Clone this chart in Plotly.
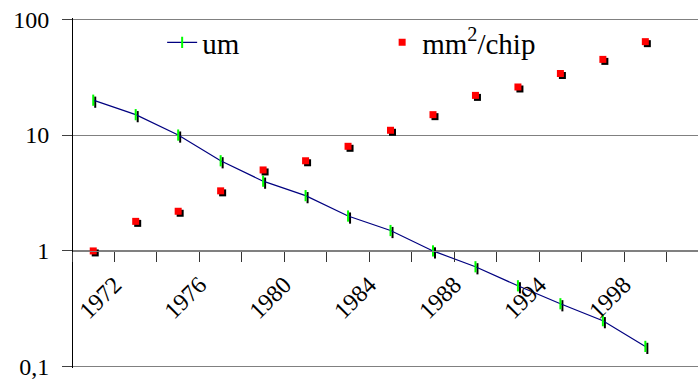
import plotly.graph_objects as go

# ---- data ----
categories = ["1972", "1974", "1976", "1978", "1980", "1982", "1984",
              "1986", "1988", "1991", "1994", "1996", "1998", "2000"]
um_values = [20, 15, 10, 6, 4, 3, 2, 1.5, 1, 0.73, 0.5, 0.35, 0.25, 0.15]
mm2_chip_values = [1, 1.8, 2.2, 3.3, 5, 6, 8, 11, 15, 22, 26, 34, 45, 64]
y_tickvals = [0.1, 1, 10, 100]
y_ticktext = ["0,1", "1", "10", "100"]
series_names = ["um", "mm<sup>2</sup>/chip"]

# ---- geometry / style helpers ----
idx = list(range(len(categories)))
pad = 1.2  # px of padding so edge gridlines are kept
plot_h = 350
x_range = [-0.5, 14.24]
dec_px = (plot_h - 2 * pad) / 3
y_range = [-1 - pad / dec_px, 2 + pad / dec_px]
cat_px = 626 / (x_range[1] - x_range[0])
sh = 2  # shadow offset in px
x_range_sh = [x_range[0] - sh / cat_px, x_range[1] - sh / cat_px]
y_range_sh = [y_range[0] + sh / dec_px, y_range[1] + sh / dec_px]
lab_shift = 0.5
x_range_lab = [x_range[0] - lab_shift, x_range[1] - lab_shift]
boundaries = [i - 0.5 for i in range(len(categories) + 1)]
axis_pos = (1 + pad / dec_px) / (3 + 2 * pad / dec_px)

FONT = "Liberation Serif"

fig = go.Figure()

# shadows (base subplot, drawn underneath)
fig.add_trace(go.Scatter(
    x=idx, y=um_values, mode="markers", xaxis="x", yaxis="y",
    marker=dict(symbol="line-ns", size=8, line=dict(color="black", width=2)),
    showlegend=False, hoverinfo="skip"))
fig.add_trace(go.Scatter(
    x=idx, y=mm2_chip_values, mode="markers", xaxis="x", yaxis="y",
    marker=dict(symbol="square", size=7, color="black", line=dict(width=0)),
    showlegend=False, hoverinfo="skip"))

# main series
fig.add_trace(go.Scatter(
    x=idx, y=um_values, mode="lines+markers", name=series_names[0],
    xaxis="x2", yaxis="y2",
    line=dict(color="#000080", width=1.2),
    marker=dict(symbol="line-ns", size=8, color="#00FF00",
                line=dict(color="#00FF00", width=2))))
fig.add_trace(go.Scatter(
    x=idx, y=mm2_chip_values, mode="markers", name=series_names[1],
    xaxis="x2", yaxis="y2",
    marker=dict(symbol="square", size=7, color="#FF0000", line=dict(width=0))))

# dummy trace carrying the label axis
fig.add_trace(go.Scatter(
    x=idx, y=um_values, mode="none", xaxis="x3", yaxis="y2",
    showlegend=False, hoverinfo="skip"))

fig.update_layout(
    width=698, height=379,
    margin=dict(l=72, r=0, t=18, b=11),
    paper_bgcolor="white", plot_bgcolor="white",
    font=dict(family=FONT, color="black", size=24),
    showlegend=True,
    legend=dict(orientation="h", x=0.144, xanchor="left", y=0.93,
                yanchor="middle", font=dict(size=29, family=FONT),
                entrywidth=175, bgcolor="rgba(0,0,0,0)", borderwidth=0),
    xaxis=dict(range=x_range_sh, visible=False),
    yaxis=dict(type="log", range=y_range_sh, visible=False),
    xaxis2=dict(overlaying="x", anchor="free", position=axis_pos, range=x_range,
                tickmode="array", tickvals=boundaries, showticklabels=False,
                ticks="outside", ticklen=10, tickcolor="#333333",
                showline=True, linecolor="#808080", linewidth=1,
                showgrid=False, zeroline=False),
    yaxis2=dict(overlaying="y", anchor="free", position=0, side="left",
                type="log", range=y_range, tickmode="array",
                tickvals=y_tickvals, ticktext=y_ticktext,
                ticks="outside", ticklen=10, tickcolor="#404040",
                showline=True, linecolor="black", linewidth=1,
                showgrid=True, gridcolor="#808080", gridwidth=1,
                zeroline=False, ticklabelstandoff=8,
                ticklabeloverflow="allow",
                tickfont=dict(size=24, family=FONT)),
    xaxis3=dict(overlaying="x", anchor="free", position=axis_pos, range=x_range_lab,
                tickmode="array", tickvals=idx[::2], ticktext=categories[::2],
                tickangle=-45, ticks="", showline=False, showgrid=False,
                zeroline=False, ticklabelstandoff=14,
                tickfont=dict(size=24, family=FONT)),
)

fig.write_html("out.html")
